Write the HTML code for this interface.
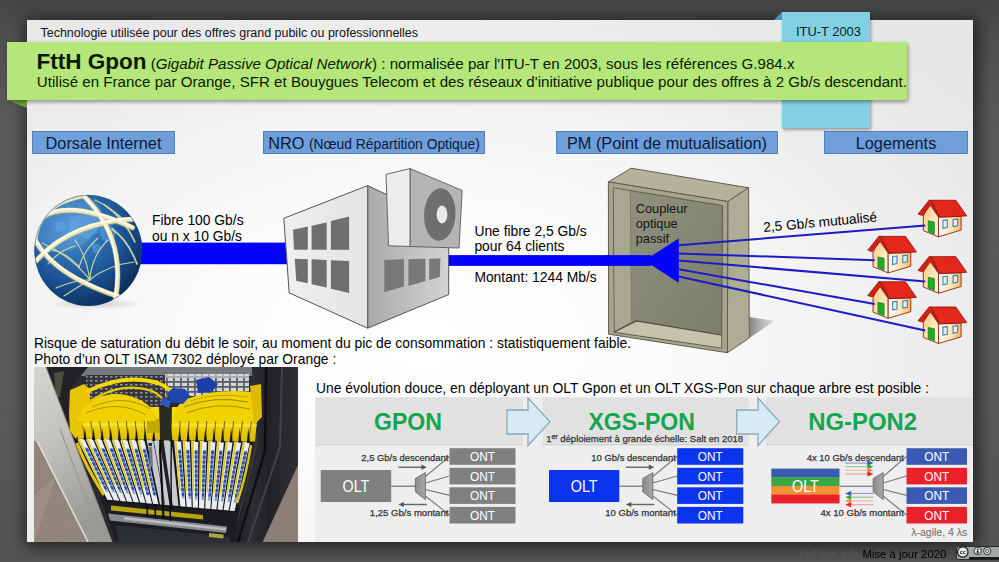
<!DOCTYPE html>
<html lang="fr">
<head>
<meta charset="utf-8">
<title>FttH Gpon</title>
<style>
*{margin:0;padding:0;box-sizing:border-box}
html,body{width:999px;height:562px;overflow:hidden}
body{font-family:"Liberation Sans",sans-serif;color:#000;position:relative;
 background:linear-gradient(to bottom,#454545 0px,#505050 36px,#5b5b5b 130px,#5a5a5a 400px,#545454 562px)}
.abs{position:absolute}
#slide{position:absolute;left:27px;top:20px;width:946px;height:522px;
 background:radial-gradient(ellipse 700px 420px at 42% 62%,#ffffff 0%,#fcfcfc 30%,#f2f2f2 60%,#eaeaea 82%,#e7e7e7 100%);
 box-shadow:2px 2px 16px 3px rgba(0,0,0,.62)}
.t{position:absolute;white-space:nowrap;line-height:1}
#tab{position:absolute;left:782px;top:12px;width:88px;height:116px;background:#82d1e3;box-shadow:1px 2px 3px rgba(0,0,0,.35)}
#tabfold{position:absolute;left:774px;top:12px;width:0;height:0;border-left:8px solid transparent;border-bottom:8px solid #3f9fc0}
#banner{position:absolute;left:7px;top:42px;width:900px;height:58px;background:#b4e67a;box-shadow:1px 2px 4px rgba(0,0,0,.4)}
#bfold{position:absolute;left:7px;top:100px;width:0;height:0;border-right:20px solid #6fa040;border-bottom:8px solid transparent}
.lbl{position:absolute;top:131px;height:23px;background:#6f9ed9;border:1px solid #4f7fc0;text-align:center;font-size:16.3px;line-height:22.3px;color:#0a1a3a;white-space:nowrap}
.lbl small{font-size:13.85px}
</style>
</head>
<body>
<div id="slide"></div>
<div id="tabfold"></div>
<div id="tab"></div>
<div class="t" style="left:796px;top:25.5px;font-size:12.9px;color:#0c1c30">ITU-T 2003</div>
<div id="bfold"></div>
<div id="banner"></div>
<div class="t" style="left:40.5px;top:26.5px;font-size:12.48px;color:#111">Technologie utilisée pour des offres grand pubilc ou professionnelles</div>
<div class="t" style="left:36.5px;top:50.6px;font-size:15.15px;color:#0a1a00"><b style="font-size:22.5px">FttH Gpon</b> (<i>Gigabit Passive Optical Network</i>) : normalisée par l'ITU-T en 2003, sous les références G.984.x</div>
<div class="t" style="left:36.8px;top:74px;font-size:15.1px;letter-spacing:.022px;color:#0a1a00">Utilisé en France par Orange, SFR et Bouygues Telecom et des réseaux d'initiative publique pour des offres à 2 Gb/s descendant.</div>

<div class="lbl" style="left:32px;width:143px">Dorsale Internet</div>
<div class="lbl" style="left:263px;width:222px">NRO <small>(Nœud Répartition Optique)</small></div>
<div class="lbl" style="left:556px;width:222px">PM (Point de mutualisation)</div>
<div class="lbl" style="left:824px;width:144px">Logements</div>

<!--MID-START-->
<svg class="abs" style="left:0;top:0" width="999" height="562" viewBox="0 0 999 562">
<defs>
 <radialGradient id="gGlobe" cx="0.36" cy="0.30" r="0.75">
  <stop offset="0" stop-color="#4f94d4"/><stop offset="0.35" stop-color="#2f72b6"/><stop offset="0.7" stop-color="#1a4f8e"/><stop offset="1" stop-color="#0d2d58"/>
 </radialGradient>
 <radialGradient id="gShadow" cx="0.5" cy="0.5" r="0.5"><stop offset="0" stop-color="#000" stop-opacity=".35"/><stop offset="1" stop-color="#000" stop-opacity="0"/></radialGradient>
 <clipPath id="cGlobe"><ellipse cx="88.3" cy="250.5" rx="54" ry="55.6"/></clipPath>
 <linearGradient id="gBldR" x1="0" y1="0" x2="1" y2="0"><stop offset="0" stop-color="#a9a9a9"/><stop offset="1" stop-color="#d4d4d4"/></linearGradient>
 <linearGradient id="gBldL" x1="0" y1="0" x2="1" y2="0"><stop offset="0" stop-color="#efefef"/><stop offset="1" stop-color="#e4e4e4"/></linearGradient>
 <linearGradient id="gBack" x1="0" y1="0" x2="1" y2="1"><stop offset="0" stop-color="#929280"/><stop offset="1" stop-color="#7c7c6a"/></linearGradient>
 <linearGradient id="gCabSh" x1="0" y1="0" x2="1" y2="0"><stop offset="0" stop-color="#777" stop-opacity=".9"/><stop offset="1" stop-color="#999" stop-opacity=".25"/></linearGradient>
 <linearGradient id="gWallL" x1="0" y1="0" x2="1" y2="1"><stop offset="0" stop-color="#ffc070"/><stop offset=".6" stop-color="#ffe9c4"/><stop offset="1" stop-color="#fff8ea"/></linearGradient>
 <linearGradient id="gWallR" x1="0" y1="0" x2="1" y2="0"><stop offset="0" stop-color="#fffdf5"/><stop offset=".6" stop-color="#ffe2b0"/><stop offset="1" stop-color="#ffb060"/></linearGradient>
 <pattern id="pRoof" width="2.2" height="2.2" patternUnits="userSpaceOnUse" patternTransform="rotate(30)"><rect width="2.2" height="2.2" fill="#ea2a1c"/><circle cx="1.1" cy="1.1" r=".55" fill="#c8190f"/></pattern>
 <g id="house">
  <polygon points="11.6,4 5.3,16 5.3,30.7 20.5,36.9 20.5,17.3" fill="url(#gWallL)" stroke="#8a2a10" stroke-width=".9" stroke-linejoin="round"/>
  <polygon points="20.5,17.3 43.1,16.5 43.1,30.2 20.5,36.9" fill="url(#gWallR)" stroke="#8a2a10" stroke-width=".9" stroke-linejoin="round"/>
  <polygon points="10.2,20.9 16.4,22.2 16.4,34.2 10.2,31.6" fill="#1fae1f" stroke="#0c6a0c" stroke-width=".6"/>
  <polygon points="24.9,20.5 29.3,20 29.3,27.6 24.9,28.5" fill="#dff0ff" stroke="#3f7fb5" stroke-width="1.1"/>
  <polygon points="35.1,19.6 39.6,19.1 39.6,25.8 35.1,26.7" fill="#dff0ff" stroke="#3f7fb5" stroke-width="1.1"/>
  <polygon points="11.1,0.4 37.8,0.4 48.7,16 21.5,17.2" fill="url(#pRoof)" stroke="#8a1810" stroke-width=".9" stroke-linejoin="round"/>
  <polygon points="11.1,0.4 0,14.2 4.6,15.6 12.6,5.2 21.5,17.2 13.5,1.2" fill="#d81f15" stroke="#8a1810" stroke-width=".8" stroke-linejoin="round"/>
 </g>
</defs>

<!-- blue fibre 1 -->
<rect x="138" y="242.6" width="150" height="21.6" fill="#0404fb"/>
<!-- globe -->
<ellipse cx="96" cy="304" rx="48" ry="6" fill="url(#gShadow)" opacity=".45"/>
<ellipse cx="88.3" cy="250.5" rx="54" ry="55.6" fill="url(#gGlobe)"/>
<g clip-path="url(#cGlobe)" fill="none">
 <path d="M70 220 q7 -7 16 -4 q9 -6 17 0 q4 7 -4 10 q2 8 -8 9 q-4 7 -11 1 q-11 -3 -10 -16z M101 226 q9 -3 14 3 q2 8 -3 12 q-8 3 -11 -4 q-3 -6 0 -11z M56 223 q7 -4 10 2 q-1 7 -8 7 q-4 -3 -2 -9z M92 244 q6 -2 9 3 q-1 6 -6 6 q-4 -3 -3 -9z" fill="#5a9fdc" opacity=".6"/>
 <ellipse cx="68" cy="224" rx="36" ry="25" fill="#86bdee" opacity=".25" transform="rotate(-30 68 224)"/>
 <g stroke="#dbe0a4" stroke-width="1.15" opacity=".92" stroke-linecap="round">
  <path d="M89.8 279.7 Q70 255 42 243"/><path d="M89.8 279.7 Q86 255 75 240"/><path d="M89.8 279.7 Q92 255 108 240"/><path d="M89.8 279.7 Q108 265 134 262"/><path d="M56 288 Q74 280 89.8 279.7"/><path d="M48 264 Q60 250 75 246"/>
  <path d="M79 267 Q66 252 52 250"/><path d="M79 267 Q84 250 98 238"/><path d="M64 296 Q76 288 89.8 279.7"/>
  <path d="M104.7 205 Q124 218 135 242" stroke-width="1.7"/><path d="M112 229 Q128 240 137 264" stroke-width="1.7"/><path d="M95 200 Q112 208 126 222"/>
 </g>
 <g stroke="#c9c28a" stroke-width="5.4" stroke-linecap="round" opacity=".55">
  <path d="M40.7 218.3 Q69.4 198.9 132.5 227.9"/>
  <path d="M36.4 261 Q70.5 222.8 134.6 219.3"/>
  <path d="M84.5 196.9 Q126.6 239.6 115.4 299.4"/>
  <path d="M35.3 240.7 Q54.5 276 119.7 297.3"/>
 </g>
 <g stroke="#efe8b6" stroke-width="4.4" stroke-linecap="round">
  <path d="M35.5 244 Q37 204 84.5 196.4" stroke-width="3.4"/>
  <path d="M40.7 217.8 Q69.4 198.4 132.5 227.4"/>
  <path d="M36.4 260.5 Q70.5 222.3 134.6 218.8"/>
  <path d="M84.5 196.4 Q126.6 239.1 115.4 298.9"/>
  <path d="M35.3 240.2 Q54.5 275.5 119.7 296.8"/>
 </g>
 <g stroke="#ffffff" stroke-width="1.7" stroke-linecap="round" opacity=".85">
  <path d="M41 217 Q69.4 197.4 132 226.4"/>
  <path d="M37 259.5 Q70.5 221.3 134 217.8"/>
  <path d="M84 196.4 Q125.6 239.1 114.4 298.5"/>
  <path d="M36 240 Q55 274.5 119 295.8"/>
 </g>
</g>
<ellipse cx="88.3" cy="250.5" rx="53.6" ry="55.2" fill="none" stroke="#1a4a80" stroke-width=".8" opacity=".6"/>

<!-- building -->
<g stroke="#555" stroke-width="1" stroke-linejoin="round">
 <polygon points="367.7,185.6 448.7,224 448.7,294.5 367.7,328.2" fill="url(#gBldR)"/>
 <polygon points="283.8,218.3 367.7,185.6 367.7,328.2 289.2,292.9" fill="url(#gBldL)"/>
</g>
<g fill="#6f6f6f">
 <polygon points="293,229.8 307.8,226.6 307.8,249.7 294,249.7"/>
 <polygon points="311.6,225.7 326.7,222.5 326.7,249.7 311.6,249.7"/>
 <polygon points="330.9,220.9 349.1,216.4 349.1,249.7 330.9,249.7"/>
 <polygon points="294.7,258.7 307.8,259.3 307.8,283.3 296.3,281.1"/>
 <polygon points="311.6,259.3 326.7,259.9 326.7,287.5 311.6,284.3"/>
 <polygon points="330.9,260.3 349.1,260.9 349.1,292.9 330.9,288.8"/>
 <polygon points="384.3,259.9 403.9,259.3 403.9,286.5 384.3,292.3" fill="#787878"/>
 <polygon points="408.4,259.3 425.4,258.7 425.4,281.1 408.4,285.9" fill="#787878"/>
 <polygon points="429.2,258.7 440.4,258.3 439.8,276.9 429.2,280.1" fill="#787878"/>
</g>
<!-- fibre 2 -->
<rect x="448.7" y="255.1" width="200" height="10.8" fill="#0404fb"/>
<!-- AC unit -->
<g stroke="#666" stroke-width="1" stroke-linejoin="round">
 <polygon points="410,168.6 462.2,190.4 459,248 410,246.5" fill="#b4b4b4"/>
 <polygon points="386,174.4 410,168.6 410,246.5 388.5,245.8" fill="#ececec"/>
</g>
<ellipse cx="439.8" cy="214.5" rx="15.7" ry="26.3" fill="#6e6e6e" transform="rotate(3 439.8 214.5)"/>
<ellipse cx="442" cy="214.5" rx="5.4" ry="9" fill="#e9e9e9"/>

<!-- cabinet -->
<polygon points="749.3,317 775,321 749.3,338" fill="url(#gCabSh)"/>
<g stroke="#5e5e50" stroke-width="1" stroke-linejoin="round">
 <polygon points="608.4,181.9 631.1,168.2 748.6,187.8 727.8,201.5" fill="#b3b39b"/>
 <polygon points="727.8,201.5 748.6,187.8 749.3,338 727.4,352.7" fill="#adad95"/>
 <polygon points="608.4,181.9 727.8,201.5 727.4,352.7 608.6,334.2" fill="#a5a58d"/>
 <polygon points="613.3,187.8 722.5,205.6 721.6,348.1 614.3,332.3" fill="url(#gBack)"/>
</g>
<polygon points="613.8,188.3 630.3,191.3 631.4,320.9 614.8,331.8" fill="#a8a890"/>
<polygon points="614.8,331.8 636.5,320.9 721.1,335 721.1,347.6" fill="#c4c4aa"/>
<path d="M614.8 331.8 L636.5 320.9 L721.1 335" fill="none" stroke="#4a4a40" stroke-width="1.2"/>
<path d="M630.3 191.3 L631.4 320.9" fill="none" stroke="#77776a" stroke-width=".8"/>

<!-- coupler -->
<rect x="606" y="255.1" width="45" height="10.8" fill="#0404fb"/>
<polygon points="644.3,260.4 678.8,238.5 678.8,282.8" fill="#0404fb"/>

<use href="#house" x="918" y="199.9"/>
<use href="#house" x="867.7" y="236"/>
<use href="#house" x="918" y="256.3"/>
<use href="#house" x="867.7" y="281.4"/>
<use href="#house" x="918" y="306.6"/>
<g stroke="#1c1cc4" stroke-width="2" fill="none">
 <path d="M678.8 245.3 L925.2 225.4"/>
 <path d="M678.8 253.5 L874.7 260.2"/>
 <path d="M678.8 260.6 L925.2 281.4"/>
 <path d="M678.8 269.3 L874.7 304.1"/>
 <path d="M678.8 276.5 L925.2 330.4"/>
</g>
</svg>
<div class="t" style="left:152px;top:213px;font-size:13.85px;line-height:15.7px">Fibre 100 Gb/s<br>ou n x 10 Gb/s</div>
<div class="t" style="left:474.4px;top:223.6px;font-size:13.85px;line-height:15.7px">Une fibre 2,5 Gb/s<br>pour 64 clients</div>
<div class="t" style="left:474.4px;top:270.6px;font-size:13.85px">Montant: 1244 Mb/s</div>
<div class="t" style="left:635.7px;top:201.8px;font-size:12.8px;line-height:14.95px;color:#151510">Coupleur<br>optique<br>passif</div>
<div class="t" style="left:764px;top:221px;font-size:13.7px;transform-origin:0 100%;transform:rotate(-5.3deg)">2,5 Gb/s mutualisé</div>
<div class="t" style="left:34px;top:336px;font-size:13.87px;line-height:15.5px">Risque de saturation du débit le soir, au moment du pic de consommation : statistiquement faible.<br>Photo d’un OLT ISAM 7302 déployé par Orange :</div>
<!--MID-END-->
<!--PHOTO-START-->
<svg class="abs" style="left:33.5px;top:367px" width="264" height="175" viewBox="0 0 264 175">
<defs>
<filter id="fb" x="-5%" y="-5%" width="110%" height="110%"><feGaussianBlur stdDeviation="0.55"/></filter>
<filter id="fb2" x="-5%" y="-5%" width="110%" height="110%"><feGaussianBlur stdDeviation="1.2"/></filter>
<pattern id="pMesh" width="5" height="4" patternUnits="userSpaceOnUse"><rect width="5" height="4" fill="#34353a"/><rect x="1" y="1" width="2.6" height="1.6" fill="#8d8f94"/></pattern>
<pattern id="pPerf" width="2.4" height="2.4" patternUnits="userSpaceOnUse" patternTransform="rotate(35)"><rect width="2.4" height="2.4" fill="#9a8a84"/><circle cx="1.2" cy="1.2" r=".6" fill="#7a6a66"/></pattern>
<pattern id="pGrid" width="7" height="5" patternUnits="userSpaceOnUse"><rect width="7" height="5" fill="#5a5f66"/><rect x=".8" y=".8" width="5.2" height="3.2" fill="#d2d6d9"/></pattern>
<linearGradient id="gDoor" x1="0" y1="0" x2="0.35" y2="1"><stop offset="0" stop-color="#d6d4ce"/><stop offset=".45" stop-color="#c4c2bc"/><stop offset="1" stop-color="#9b9995"/></linearGradient>
<linearGradient id="gRail" x1="0" y1="0" x2="1" y2="0"><stop offset="0" stop-color="#1c1c20"/><stop offset=".3" stop-color="#2e2e33"/><stop offset=".55" stop-color="#232327"/><stop offset="1" stop-color="#303035"/></linearGradient>
<linearGradient id="gBoot" x1="0" y1="0" x2="0" y2="1"><stop offset="0" stop-color="#f4dc18"/><stop offset=".55" stop-color="#f0d200"/><stop offset="1" stop-color="#dcbc00"/></linearGradient>
<clipPath id="cPh"><rect width="264" height="175"/></clipPath>
</defs>
<g clip-path="url(#cPh)">
<rect width="264" height="175" fill="#2a2a2f"/>
<g filter="url(#fb)">
<rect x="40" y="0" width="180" height="9" fill="#747a7d"/>
<rect x="52" y="8" width="82" height="36" fill="url(#pMesh)"/>
<rect x="131" y="7" width="84" height="22" fill="url(#pGrid)"/>
<rect x="131" y="7" width="84" height="4" fill="#d8dcde" opacity=".6"/>
<polygon points="264,90 264,175 222,175" fill="#8d7f77"/>
<polygon points="218,0 264,0 264,98 228.6,175 198,175 208,126 219,78" fill="url(#gRail)"/>
<path d="M248 0 L246 80 L214 175" stroke="#48484e" stroke-width="2" fill="none" opacity=".8"/>
<path d="M232 0 L231 84 L204 175" stroke="#101013" stroke-width="2.5" fill="none"/>
<path d="M222 30 L222 80 L202 160" stroke="#3d3d42" stroke-width="1.2" fill="none"/>
<polygon points="66,130 206,140 200,175 82,175" fill="#1d1d22"/>
<polygon points="74,146.5 193,159.5 192,166 76,153.5" fill="#888c92"/>
<polygon points="90,150 192,161.2 192,163.4 90,152.4" fill="#cfd0ca" opacity=".75"/>
<polygon points="77,138.5 169,148 169,152.5 77,143.5" fill="#b8a410"/>
<polygon points="82,158 196,170 196,175 84,175" fill="#2c2e36"/>
<polygon points="175,166 189.5,167.5 189.5,171.5 175,170" fill="#b5a33a"/>
<polygon points="40,71.5 219,75.0 202.3,146.3 71.9,134.5" fill="#17171a"/>
<polygon points="43.0,71.5 50.1,71.7 78.8,133.2 73.3,132.7" fill="#e9ecf0"/>
<polygon points="43.5,71.5 45.4,71.5 67.3,116.7 65.7,116.7" fill="#e4cb12"/>
<polygon points="50.7,80.5 53.5,80.5 74.2,124.7 71.9,124.7" fill="#7f9bd0"/>
<polygon points="51.2,81.5 54.0,81.5 55.5,84.6 52.7,84.6" fill="#2a4f9e"/>
<polygon points="53.4,86.2 56.2,86.2 57.7,89.3 54.9,89.3" fill="#2a4f9e"/>
<polygon points="55.7,90.9 58.4,90.9 59.9,94.0 57.2,94.0" fill="#2a4f9e"/>
<polygon points="58.0,95.6 60.6,95.6 62.1,98.7 59.5,98.7" fill="#2a4f9e"/>
<polygon points="60.2,100.3 62.8,100.3 64.3,103.4 61.7,103.4" fill="#2a4f9e"/>
<polygon points="62.5,105.0 65.0,105.0 66.5,108.1 64.0,108.1" fill="#2a4f9e"/>
<polygon points="64.7,109.7 67.2,109.7 68.7,112.8 66.2,112.8" fill="#2a4f9e"/>
<polygon points="67.0,114.4 69.4,114.4 70.9,117.5 68.5,117.5" fill="#2a4f9e"/>
<polygon points="69.3,119.1 71.6,119.1 73.1,122.2 70.8,122.2" fill="#2a4f9e"/>
<polygon points="51.6,71.7 58.7,71.8 85.4,133.8 79.9,133.3" fill="#e9ecf0"/>
<polygon points="52.1,71.7 54.0,71.7 74.5,117.3 73.0,117.3" fill="#e4cb12"/>
<polygon points="59.0,80.7 61.8,80.7 81.2,125.3 78.9,125.3" fill="#7f9bd0"/>
<polygon points="59.4,81.7 62.3,81.7 63.6,84.8 60.8,84.8" fill="#2a4f9e"/>
<polygon points="61.5,86.4 64.3,86.4 65.7,89.5 62.9,89.5" fill="#2a4f9e"/>
<polygon points="63.6,91.1 66.3,91.1 67.7,94.2 65.0,94.2" fill="#2a4f9e"/>
<polygon points="65.7,95.8 68.4,95.8 69.7,98.9 67.1,98.9" fill="#2a4f9e"/>
<polygon points="67.8,100.5 70.4,100.5 71.8,103.6 69.2,103.6" fill="#2a4f9e"/>
<polygon points="69.9,105.2 72.5,105.2 73.8,108.3 71.3,108.3" fill="#2a4f9e"/>
<polygon points="72.0,109.9 74.5,109.9 75.8,113.0 73.4,113.0" fill="#2a4f9e"/>
<polygon points="74.1,114.6 76.5,114.6 77.9,117.7 75.5,117.7" fill="#2a4f9e"/>
<polygon points="76.2,119.3 78.6,119.3 79.9,122.4 77.6,122.4" fill="#2a4f9e"/>
<polygon points="60.2,71.9 67.3,72.0 92.0,134.4 86.5,133.9" fill="#e9ecf0"/>
<polygon points="60.7,71.9 62.6,71.9 81.7,117.9 80.1,117.9" fill="#e4cb12"/>
<polygon points="67.3,80.9 70.1,80.9 88.1,125.9 85.8,125.9" fill="#7f9bd0"/>
<polygon points="67.7,81.9 70.5,81.9 71.8,85.0 69.0,85.0" fill="#2a4f9e"/>
<polygon points="69.6,86.6 72.4,86.6 73.6,89.7 70.9,89.7" fill="#2a4f9e"/>
<polygon points="71.5,91.3 74.3,91.3 75.5,94.4 72.8,94.4" fill="#2a4f9e"/>
<polygon points="73.5,96.0 76.1,96.0 77.4,99.1 74.7,99.1" fill="#2a4f9e"/>
<polygon points="75.4,100.7 78.0,100.7 79.2,103.8 76.7,103.8" fill="#2a4f9e"/>
<polygon points="77.3,105.4 79.9,105.4 81.1,108.5 78.6,108.5" fill="#2a4f9e"/>
<polygon points="79.3,110.1 81.8,110.1 83.0,113.2 80.5,113.2" fill="#2a4f9e"/>
<polygon points="81.2,114.8 83.6,114.8 84.9,117.9 82.5,117.9" fill="#2a4f9e"/>
<polygon points="83.1,119.5 85.5,119.5 86.7,122.6 84.4,122.6" fill="#2a4f9e"/>
<polygon points="68.8,72.0 75.9,72.2 98.5,134.9 93.1,134.5" fill="#e9ecf0"/>
<polygon points="69.3,72.0 71.2,72.0 88.8,118.5 87.3,118.5" fill="#e4cb12"/>
<polygon points="75.6,81.0 78.4,81.0 94.9,126.5 92.6,126.5" fill="#7f9bd0"/>
<polygon points="75.9,82.0 78.8,82.0 79.9,85.1 77.1,85.1" fill="#2a4f9e"/>
<polygon points="77.7,86.7 80.5,86.7 81.6,89.8 78.9,89.8" fill="#2a4f9e"/>
<polygon points="79.5,91.4 82.2,91.4 83.3,94.5 80.6,94.5" fill="#2a4f9e"/>
<polygon points="81.2,96.1 83.9,96.1 85.0,99.2 82.4,99.2" fill="#2a4f9e"/>
<polygon points="83.0,100.8 85.6,100.8 86.7,103.9 84.2,103.9" fill="#2a4f9e"/>
<polygon points="84.8,105.5 87.3,105.5 88.4,108.6 85.9,108.6" fill="#2a4f9e"/>
<polygon points="86.5,110.2 89.0,110.2 90.1,113.3 87.7,113.3" fill="#2a4f9e"/>
<polygon points="88.3,114.9 90.7,114.9 91.8,118.0 89.4,118.0" fill="#2a4f9e"/>
<polygon points="90.0,119.6 92.4,119.6 93.6,122.7 91.2,122.7" fill="#2a4f9e"/>
<polygon points="77.4,72.2 84.5,72.3 105.0,135.5 99.6,135.0" fill="#e9ecf0"/>
<polygon points="77.9,72.2 79.8,72.2 95.9,119.0 94.4,119.0" fill="#e4cb12"/>
<polygon points="83.8,81.2 86.7,81.2 101.7,127.0 99.4,127.0" fill="#7f9bd0"/>
<polygon points="84.2,82.2 87.0,82.2 88.0,85.3 85.2,85.3" fill="#2a4f9e"/>
<polygon points="85.8,86.9 88.6,86.9 89.6,90.0 86.8,90.0" fill="#2a4f9e"/>
<polygon points="87.4,91.6 90.1,91.6 91.1,94.7 88.4,94.7" fill="#2a4f9e"/>
<polygon points="89.0,96.3 91.6,96.3 92.7,99.4 90.0,99.4" fill="#2a4f9e"/>
<polygon points="90.6,101.0 93.2,101.0 94.2,104.1 91.6,104.1" fill="#2a4f9e"/>
<polygon points="92.2,105.7 94.7,105.7 95.7,108.8 93.2,108.8" fill="#2a4f9e"/>
<polygon points="93.8,110.4 96.3,110.4 97.3,113.5 94.8,113.5" fill="#2a4f9e"/>
<polygon points="95.4,115.1 97.8,115.1 98.8,118.2 96.4,118.2" fill="#2a4f9e"/>
<polygon points="97.0,119.8 99.3,119.8 100.4,122.9 98.0,122.9" fill="#2a4f9e"/>
<polygon points="86.0,72.4 93.1,72.5 111.5,136.1 106.2,135.6" fill="#e9ecf0"/>
<polygon points="86.5,72.4 88.4,72.4 103.0,119.6 101.5,119.6" fill="#e4cb12"/>
<polygon points="92.1,81.4 95.0,81.4 108.5,127.6 106.2,127.6" fill="#7f9bd0"/>
<polygon points="92.4,82.4 95.3,82.4 96.2,85.5 93.4,85.5" fill="#2a4f9e"/>
<polygon points="93.9,87.1 96.7,87.1 97.6,90.2 94.8,90.2" fill="#2a4f9e"/>
<polygon points="95.3,91.8 98.0,91.8 98.9,94.9 96.2,94.9" fill="#2a4f9e"/>
<polygon points="96.7,96.5 99.4,96.5 100.3,99.6 97.7,99.6" fill="#2a4f9e"/>
<polygon points="98.2,101.2 100.8,101.2 101.7,104.3 99.1,104.3" fill="#2a4f9e"/>
<polygon points="99.6,105.9 102.1,105.9 103.1,109.0 100.5,109.0" fill="#2a4f9e"/>
<polygon points="101.0,110.6 103.5,110.6 104.4,113.7 102.0,113.7" fill="#2a4f9e"/>
<polygon points="102.5,115.3 104.9,115.3 105.8,118.4 103.4,118.4" fill="#2a4f9e"/>
<polygon points="103.9,120.0 106.3,120.0 107.2,123.1 104.8,123.1" fill="#2a4f9e"/>
<polygon points="94.6,72.6 101.7,72.7 118.0,136.7 112.6,136.2" fill="#e9ecf0"/>
<polygon points="95.1,72.6 97.0,72.6 110.0,120.2 108.5,120.2" fill="#e4cb12"/>
<polygon points="100.4,81.6 103.3,81.6 115.3,128.2 113.0,128.2" fill="#7f9bd0"/>
<polygon points="100.7,82.6 103.5,82.6 104.3,85.7 101.5,85.7" fill="#2a4f9e"/>
<polygon points="101.9,87.3 104.7,87.3 105.5,90.4 102.8,90.4" fill="#2a4f9e"/>
<polygon points="103.2,92.0 105.9,92.0 106.7,95.1 104.0,95.1" fill="#2a4f9e"/>
<polygon points="104.5,96.7 107.1,96.7 107.9,99.8 105.3,99.8" fill="#2a4f9e"/>
<polygon points="105.7,101.4 108.4,101.4 109.2,104.5 106.6,104.5" fill="#2a4f9e"/>
<polygon points="107.0,106.1 109.6,106.1 110.4,109.2 107.8,109.2" fill="#2a4f9e"/>
<polygon points="108.3,110.8 110.8,110.8 111.6,113.9 109.1,113.9" fill="#2a4f9e"/>
<polygon points="109.5,115.5 112.0,115.5 112.8,118.6 110.4,118.6" fill="#2a4f9e"/>
<polygon points="110.8,120.2 113.2,120.2 114.0,123.3 111.6,123.3" fill="#2a4f9e"/>
<polygon points="112.1,124.9 114.4,124.9 115.2,128.0 112.9,128.0" fill="#2a4f9e"/>
<polygon points="103.2,72.7 110.3,72.9 124.4,137.3 119.1,136.8" fill="#e9ecf0"/>
<polygon points="103.7,72.7 105.6,72.7 117.0,120.8 115.5,120.8" fill="#e4cb12"/>
<polygon points="108.7,81.7 111.6,81.7 122.0,128.8 119.7,128.8" fill="#7f9bd0"/>
<polygon points="108.9,82.7 111.8,82.7 112.5,85.8 109.7,85.8" fill="#2a4f9e"/>
<polygon points="110.0,87.4 112.8,87.4 113.5,90.5 110.8,90.5" fill="#2a4f9e"/>
<polygon points="111.1,92.1 113.9,92.1 114.5,95.2 111.9,95.2" fill="#2a4f9e"/>
<polygon points="112.2,96.8 114.9,96.8 115.6,99.9 113.0,99.9" fill="#2a4f9e"/>
<polygon points="113.3,101.5 115.9,101.5 116.6,104.6 114.0,104.6" fill="#2a4f9e"/>
<polygon points="114.4,106.2 117.0,106.2 117.7,109.3 115.1,109.3" fill="#2a4f9e"/>
<polygon points="115.5,110.9 118.0,110.9 118.7,114.0 116.2,114.0" fill="#2a4f9e"/>
<polygon points="116.6,115.6 119.1,115.6 119.7,118.7 117.3,118.7" fill="#2a4f9e"/>
<polygon points="117.7,120.3 120.1,120.3 120.8,123.4 118.4,123.4" fill="#2a4f9e"/>
<polygon points="118.8,125.0 121.1,125.0 121.8,128.1 119.5,128.1" fill="#2a4f9e"/>
<polygon points="112.5,72.9 119.0,73.0 130.8,137.9 126.0,137.4" fill="#c6c9ce"/>
<polygon points="119.6,73.1 125.5,73.2 135.6,138.3 131.3,137.9" fill="#c6c9ce"/>
<polygon points="126.0,73.2 129.0,73.2 138.2,138.5 136.0,138.3" fill="#202024"/>
<polygon points="129.5,73.2 137.5,73.4 144.5,139.1 138.6,138.5" fill="#c6c9ce"/>
<polygon points="114.5,80 118,80 119,100 116,100" fill="#6d7a8c"/>
<polygon points="114.5,76 118,76 118,79 114.5,79" fill="#2a2a2e"/>
<polygon points="140.0,73.5 147.1,73.6 151.5,139.7 146.3,139.2" fill="#e9ecf0"/>
<polygon points="140.5,73.5 142.4,73.5 146.7,123.2 145.2,123.2" fill="#e4cb12"/>
<polygon points="144.1,82.5 147.0,82.5 150.4,131.2 148.1,131.2" fill="#7f9bd0"/>
<polygon points="144.2,83.5 147.1,83.5 147.3,86.6 144.5,86.6" fill="#2a4f9e"/>
<polygon points="144.6,88.2 147.4,88.2 147.6,91.3 144.9,91.3" fill="#2a4f9e"/>
<polygon points="145.0,92.9 147.7,92.9 147.9,96.0 145.2,96.0" fill="#2a4f9e"/>
<polygon points="145.4,97.6 148.0,97.6 148.3,100.7 145.6,100.7" fill="#2a4f9e"/>
<polygon points="145.7,102.3 148.4,102.3 148.6,105.4 146.0,105.4" fill="#2a4f9e"/>
<polygon points="146.1,107.0 148.7,107.0 148.9,110.1 146.4,110.1" fill="#2a4f9e"/>
<polygon points="146.5,111.7 149.0,111.7 149.2,114.8 146.8,114.8" fill="#2a4f9e"/>
<polygon points="146.9,116.4 149.3,116.4 149.6,119.5 147.2,119.5" fill="#2a4f9e"/>
<polygon points="147.3,121.1 149.7,121.1 149.9,124.2 147.5,124.2" fill="#2a4f9e"/>
<polygon points="147.7,125.8 150.0,125.8 150.2,128.9 147.9,128.9" fill="#2a4f9e"/>
<polygon points="148.6,73.6 155.7,73.8 157.7,140.3 152.6,139.8" fill="#e9ecf0"/>
<polygon points="149.1,73.6 151.0,73.6 153.5,123.8 152.0,123.8" fill="#e4cb12"/>
<polygon points="152.4,82.6 155.3,82.6 156.9,131.8 154.7,131.8" fill="#7f9bd0"/>
<polygon points="152.5,83.6 155.3,83.6 155.4,86.7 152.6,86.7" fill="#2a4f9e"/>
<polygon points="152.7,88.3 155.5,88.3 155.6,91.4 152.8,91.4" fill="#2a4f9e"/>
<polygon points="152.9,93.0 155.6,93.0 155.7,96.1 153.0,96.1" fill="#2a4f9e"/>
<polygon points="153.1,97.7 155.8,97.7 155.9,100.8 153.2,100.8" fill="#2a4f9e"/>
<polygon points="153.3,102.4 155.9,102.4 156.0,105.5 153.5,105.5" fill="#2a4f9e"/>
<polygon points="153.5,107.1 156.1,107.1 156.2,110.2 153.7,110.2" fill="#2a4f9e"/>
<polygon points="153.8,111.8 156.3,111.8 156.4,114.9 153.9,114.9" fill="#2a4f9e"/>
<polygon points="154.0,116.5 156.4,116.5 156.5,119.6 154.1,119.6" fill="#2a4f9e"/>
<polygon points="154.2,121.2 156.6,121.2 156.7,124.3 154.3,124.3" fill="#2a4f9e"/>
<polygon points="154.4,125.9 156.7,125.9 156.8,129.0 154.5,129.0" fill="#2a4f9e"/>
<polygon points="157.2,73.8 164.3,73.9 163.9,140.8 158.8,140.4" fill="#e9ecf0"/>
<polygon points="157.7,73.8 159.6,73.8 160.3,124.4 158.8,124.4" fill="#e4cb12"/>
<polygon points="160.7,82.8 163.6,82.8 163.4,132.4 161.2,132.4" fill="#7f9bd0"/>
<polygon points="160.7,83.8 163.6,83.8 163.6,86.9 160.7,86.9" fill="#2a4f9e"/>
<polygon points="160.8,88.5 163.6,88.5 163.5,91.6 160.8,91.6" fill="#2a4f9e"/>
<polygon points="160.8,93.2 163.5,93.2 163.5,96.3 160.8,96.3" fill="#2a4f9e"/>
<polygon points="160.8,97.9 163.5,97.9 163.5,101.0 160.9,101.0" fill="#2a4f9e"/>
<polygon points="160.9,102.6 163.5,102.6 163.5,105.7 160.9,105.7" fill="#2a4f9e"/>
<polygon points="160.9,107.3 163.5,107.3 163.5,110.4 161.0,110.4" fill="#2a4f9e"/>
<polygon points="161.0,112.0 163.5,112.0 163.5,115.1 161.0,115.1" fill="#2a4f9e"/>
<polygon points="161.0,116.7 163.5,116.7 163.5,119.8 161.1,119.8" fill="#2a4f9e"/>
<polygon points="161.1,121.4 163.5,121.4 163.5,124.5 161.1,124.5" fill="#2a4f9e"/>
<polygon points="161.1,126.1 163.5,126.1 163.5,129.2 161.2,129.2" fill="#2a4f9e"/>
<polygon points="165.8,74.0 172.9,74.1 170.1,141.4 165.0,140.9" fill="#e9ecf0"/>
<polygon points="166.3,74.0 168.2,74.0 167.1,124.9 165.6,124.9" fill="#e4cb12"/>
<polygon points="169.0,83.0 171.9,83.0 169.9,132.9 167.7,132.9" fill="#7f9bd0"/>
<polygon points="169.0,84.0 171.8,84.0 171.7,87.1 168.9,87.1" fill="#2a4f9e"/>
<polygon points="168.8,88.7 171.6,88.7 171.5,91.8 168.7,91.8" fill="#2a4f9e"/>
<polygon points="168.7,93.4 171.5,93.4 171.3,96.5 168.6,96.5" fill="#2a4f9e"/>
<polygon points="168.6,98.1 171.3,98.1 171.2,101.2 168.5,101.2" fill="#2a4f9e"/>
<polygon points="168.5,102.8 171.1,102.8 171.0,105.9 168.4,105.9" fill="#2a4f9e"/>
<polygon points="168.3,107.5 170.9,107.5 170.8,110.6 168.3,110.6" fill="#2a4f9e"/>
<polygon points="168.2,112.2 170.7,112.2 170.6,115.3 168.1,115.3" fill="#2a4f9e"/>
<polygon points="168.1,116.9 170.6,116.9 170.4,120.0 168.0,120.0" fill="#2a4f9e"/>
<polygon points="168.0,121.6 170.4,121.6 170.3,124.7 167.9,124.7" fill="#2a4f9e"/>
<polygon points="167.9,126.3 170.2,126.3 170.1,129.4 167.8,129.4" fill="#2a4f9e"/>
<polygon points="174.4,74.1 181.5,74.3 176.3,141.9 171.2,141.5" fill="#e9ecf0"/>
<polygon points="174.9,74.1 176.8,74.1 173.9,125.5 172.4,125.5" fill="#e4cb12"/>
<polygon points="177.3,83.1 180.1,83.1 176.4,133.5 174.1,133.5" fill="#7f9bd0"/>
<polygon points="177.2,84.1 180.1,84.1 179.8,87.2 177.0,87.2" fill="#2a4f9e"/>
<polygon points="176.9,88.8 179.7,88.8 179.5,91.9 176.7,91.9" fill="#2a4f9e"/>
<polygon points="176.6,93.5 179.4,93.5 179.1,96.6 176.4,96.6" fill="#2a4f9e"/>
<polygon points="176.3,98.2 179.0,98.2 178.8,101.3 176.1,101.3" fill="#2a4f9e"/>
<polygon points="176.0,102.9 178.7,102.9 178.4,106.0 175.8,106.0" fill="#2a4f9e"/>
<polygon points="175.7,107.6 178.3,107.6 178.1,110.7 175.6,110.7" fill="#2a4f9e"/>
<polygon points="175.5,112.3 178.0,112.3 177.7,115.4 175.3,115.4" fill="#2a4f9e"/>
<polygon points="175.2,117.0 177.6,117.0 177.4,120.1 175.0,120.1" fill="#2a4f9e"/>
<polygon points="174.9,121.7 177.3,121.7 177.0,124.8 174.7,124.8" fill="#2a4f9e"/>
<polygon points="174.6,126.4 176.9,126.4 176.7,129.5 174.4,129.5" fill="#2a4f9e"/>
<polygon points="183.0,74.3 190.1,74.5 182.4,142.5 177.3,142.0" fill="#e9ecf0"/>
<polygon points="183.5,74.3 185.4,74.3 180.6,126.0 179.1,126.0" fill="#e4cb12"/>
<polygon points="185.5,83.3 188.4,83.3 182.8,134.0 180.6,134.0" fill="#7f9bd0"/>
<polygon points="185.4,84.3 188.3,84.3 188.0,87.4 185.1,87.4" fill="#2a4f9e"/>
<polygon points="185.0,89.0 187.8,89.0 187.4,92.1 184.7,92.1" fill="#2a4f9e"/>
<polygon points="184.5,93.7 187.3,93.7 186.9,96.8 184.2,96.8" fill="#2a4f9e"/>
<polygon points="184.1,98.4 186.7,98.4 186.4,101.5 183.8,101.5" fill="#2a4f9e"/>
<polygon points="183.6,103.1 186.2,103.1 185.9,106.2 183.3,106.2" fill="#2a4f9e"/>
<polygon points="183.1,107.8 185.7,107.8 185.4,110.9 182.8,110.9" fill="#2a4f9e"/>
<polygon points="182.7,112.5 185.2,112.5 184.9,115.6 182.4,115.6" fill="#2a4f9e"/>
<polygon points="182.2,117.2 184.7,117.2 184.3,120.3 181.9,120.3" fill="#2a4f9e"/>
<polygon points="181.8,121.9 184.2,121.9 183.8,125.0 181.5,125.0" fill="#2a4f9e"/>
<polygon points="181.3,126.6 183.6,126.6 183.3,129.7 181.0,129.7" fill="#2a4f9e"/>
<polygon points="191.6,74.5 198.7,74.6 188.5,143.0 183.5,142.6" fill="#e9ecf0"/>
<polygon points="192.1,74.5 194.0,74.5 187.3,126.6 185.8,126.6" fill="#e4cb12"/>
<polygon points="193.8,83.5 196.7,83.5 189.2,134.6 187.0,134.6" fill="#7f9bd0"/>
<polygon points="193.7,84.5 196.5,84.5 196.1,87.6 193.3,87.6" fill="#2a4f9e"/>
<polygon points="193.1,89.2 195.9,89.2 195.4,92.3 192.6,92.3" fill="#2a4f9e"/>
<polygon points="192.4,93.9 195.2,93.9 194.7,97.0 192.0,97.0" fill="#2a4f9e"/>
<polygon points="191.8,98.6 194.5,98.6 194.0,101.7 191.4,101.7" fill="#2a4f9e"/>
<polygon points="191.2,103.3 193.8,103.3 193.3,106.4 190.8,106.4" fill="#2a4f9e"/>
<polygon points="190.5,108.0 193.1,108.0 192.7,111.1 190.1,111.1" fill="#2a4f9e"/>
<polygon points="189.9,112.7 192.4,112.7 192.0,115.8 189.5,115.8" fill="#2a4f9e"/>
<polygon points="189.3,117.4 191.7,117.4 191.3,120.5 188.9,120.5" fill="#2a4f9e"/>
<polygon points="188.7,122.1 191.1,122.1 190.6,125.2 188.2,125.2" fill="#2a4f9e"/>
<polygon points="188.0,126.8 190.4,126.8 189.9,129.9 187.6,129.9" fill="#2a4f9e"/>
<polygon points="200.2,74.7 207.3,74.8 194.6,143.6 189.6,143.1" fill="#e9ecf0"/>
<polygon points="200.7,74.7 202.6,74.7 193.9,127.1 192.4,127.1" fill="#e4cb12"/>
<polygon points="202.1,83.7 205.0,83.7 195.6,135.1 193.4,135.1" fill="#7f9bd0"/>
<polygon points="201.9,84.7 204.8,84.7 204.2,87.8 201.4,87.8" fill="#2a4f9e"/>
<polygon points="201.1,89.4 203.9,89.4 203.4,92.5 200.6,92.5" fill="#2a4f9e"/>
<polygon points="200.3,94.1 203.1,94.1 202.5,97.2 199.8,97.2" fill="#2a4f9e"/>
<polygon points="199.5,98.8 202.2,98.8 201.7,101.9 199.0,101.9" fill="#2a4f9e"/>
<polygon points="198.7,103.5 201.4,103.5 200.8,106.6 198.2,106.6" fill="#2a4f9e"/>
<polygon points="197.9,108.2 200.5,108.2 199.9,111.3 197.4,111.3" fill="#2a4f9e"/>
<polygon points="197.1,112.9 199.7,112.9 199.1,116.0 196.6,116.0" fill="#2a4f9e"/>
<polygon points="196.3,117.6 198.8,117.6 198.2,120.7 195.8,120.7" fill="#2a4f9e"/>
<polygon points="195.5,122.3 197.9,122.3 197.4,125.4 195.0,125.4" fill="#2a4f9e"/>
<polygon points="194.7,127.0 197.1,127.0 196.5,130.1 194.2,130.1" fill="#2a4f9e"/>
<polygon points="208.8,74.8 215.9,75.0 200.6,144.1 195.6,143.7" fill="#e9ecf0"/>
<polygon points="209.3,74.8 211.2,74.8 200.6,127.7 199.1,127.7" fill="#e4cb12"/>
<polygon points="210.4,83.8 213.3,83.8 201.9,135.7 199.7,135.7" fill="#7f9bd0"/>
<polygon points="210.2,84.8 213.0,84.8 212.4,87.9 209.5,87.9" fill="#2a4f9e"/>
<polygon points="209.2,89.5 212.0,89.5 211.3,92.6 208.6,92.6" fill="#2a4f9e"/>
<polygon points="208.2,94.2 211.0,94.2 210.3,97.3 207.6,97.3" fill="#2a4f9e"/>
<polygon points="207.3,98.9 210.0,98.9 209.3,102.0 206.6,102.0" fill="#2a4f9e"/>
<polygon points="206.3,103.6 208.9,103.6 208.3,106.7 205.7,106.7" fill="#2a4f9e"/>
<polygon points="205.3,108.3 207.9,108.3 207.2,111.4 204.7,111.4" fill="#2a4f9e"/>
<polygon points="204.4,113.0 206.9,113.0 206.2,116.1 203.7,116.1" fill="#2a4f9e"/>
<polygon points="203.4,117.7 205.9,117.7 205.2,120.8 202.8,120.8" fill="#2a4f9e"/>
<polygon points="202.4,122.4 204.8,122.4 204.1,125.5 201.8,125.5" fill="#2a4f9e"/>
<polygon points="201.5,127.1 203.8,127.1 203.1,130.2 200.8,130.2" fill="#2a4f9e"/>
<path d="M43 76 Q52 100 70 128" stroke="#e0c60c" stroke-width="3.2" fill="none"/>
<path d="M217 78 Q212 110 203 136" stroke="#e0c60c" stroke-width="2.4" fill="none"/>
<path d="M131 40 Q124 70 127 100 L129.5 152" stroke="#0d0d10" stroke-width="2.2" fill="none"/>
<path d="M140 40 Q136 60 137.5 142" stroke="#0d0d10" stroke-width="1.4" fill="none"/>
<path d="M121 138 L121.5 152 M113 137 L113.5 150 M136 139.5 L136.5 154" stroke="#0d0d10" stroke-width="1.6" fill="none"/>
<polygon points="38,40 224,40 221,74.5 41,71.5" fill="url(#gBoot)"/>
<polygon points="40,56 223,57 223,60 40,59" fill="#fff27a" opacity=".45"/>
<path d="M37.8 49 L42.4 71.5" stroke="#5e5000" stroke-width="1.1" opacity=".75"/>
<polygon points="42.3,61 40.8,72.5 44.0,72.5" fill="#17170f"/>
<path d="M46.8 49 L51.0 71.7" stroke="#5e5000" stroke-width="1.1" opacity=".75"/>
<polygon points="50.9,61 49.4,72.7 52.6,72.7" fill="#17170f"/>
<path d="M55.8 49 L59.6 71.9" stroke="#5e5000" stroke-width="1.1" opacity=".75"/>
<polygon points="59.5,61 58.0,72.9 61.2,72.9" fill="#17170f"/>
<path d="M64.8 49 L68.2 72.0" stroke="#5e5000" stroke-width="1.1" opacity=".75"/>
<polygon points="68.1,61 66.6,73.0 69.8,73.0" fill="#17170f"/>
<path d="M73.9 49 L76.8 72.2" stroke="#5e5000" stroke-width="1.1" opacity=".75"/>
<polygon points="76.7,61 75.2,73.2 78.4,73.2" fill="#17170f"/>
<path d="M82.9 49 L85.4 72.4" stroke="#5e5000" stroke-width="1.1" opacity=".75"/>
<polygon points="85.3,61 83.8,73.4 87.0,73.4" fill="#17170f"/>
<path d="M91.9 49 L94.0 72.6" stroke="#5e5000" stroke-width="1.1" opacity=".75"/>
<polygon points="93.9,61 92.4,73.6 95.6,73.6" fill="#17170f"/>
<path d="M101.0 49 L102.6 72.7" stroke="#5e5000" stroke-width="1.1" opacity=".75"/>
<polygon points="102.5,61 101.0,73.7 104.2,73.7" fill="#17170f"/>
<path d="M110.0 49 L111.2 72.9" stroke="#5e5000" stroke-width="1.1" opacity=".75"/>
<polygon points="111.1,61 109.6,73.9 112.8,73.9" fill="#17170f"/>
<path d="M119.0 49 L119.8 73.1" stroke="#5e5000" stroke-width="1.1" opacity=".75"/>
<polygon points="119.7,61 118.2,74.1 121.4,74.1" fill="#17170f"/>
<path d="M128.1 49 L128.4 73.2" stroke="#5e5000" stroke-width="1.1" opacity=".75"/>
<polygon points="128.3,61 126.8,74.2 130.0,74.2" fill="#17170f"/>
<path d="M137.1 49 L137.0 73.4" stroke="#5e5000" stroke-width="1.1" opacity=".75"/>
<polygon points="136.9,61 135.4,74.4 138.6,74.4" fill="#17170f"/>
<path d="M146.1 49 L145.6 73.6" stroke="#5e5000" stroke-width="1.1" opacity=".75"/>
<polygon points="145.5,61 144.0,74.6 147.2,74.6" fill="#17170f"/>
<path d="M155.1 49 L154.2 73.8" stroke="#5e5000" stroke-width="1.1" opacity=".75"/>
<polygon points="154.1,61 152.6,74.8 155.8,74.8" fill="#17170f"/>
<path d="M164.2 49 L162.8 73.9" stroke="#5e5000" stroke-width="1.1" opacity=".75"/>
<polygon points="162.7,61 161.2,74.9 164.4,74.9" fill="#17170f"/>
<path d="M173.2 49 L171.4 74.1" stroke="#5e5000" stroke-width="1.1" opacity=".75"/>
<polygon points="171.3,61 169.8,75.1 173.0,75.1" fill="#17170f"/>
<path d="M182.2 49 L180.0 74.3" stroke="#5e5000" stroke-width="1.1" opacity=".75"/>
<polygon points="179.9,61 178.4,75.3 181.6,75.3" fill="#17170f"/>
<path d="M191.3 49 L188.6 74.4" stroke="#5e5000" stroke-width="1.1" opacity=".75"/>
<polygon points="188.5,61 187.0,75.4 190.2,75.4" fill="#17170f"/>
<path d="M200.3 49 L197.2 74.6" stroke="#5e5000" stroke-width="1.1" opacity=".75"/>
<polygon points="197.1,61 195.6,75.6 198.8,75.6" fill="#17170f"/>
<path d="M209.3 49 L205.8 74.8" stroke="#5e5000" stroke-width="1.1" opacity=".75"/>
<polygon points="205.7,61 204.2,75.8 207.4,75.8" fill="#17170f"/>
<path d="M218.3 49 L214.4 75.0" stroke="#5e5000" stroke-width="1.1" opacity=".75"/>
<polygon points="214.3,61 212.8,76.0 216.0,76.0" fill="#17170f"/>
<polygon points="125,38 138,38 137,73 126,73" fill="#2a2a22"/>
<polygon points="113,52 125,52 125,66 113,66" fill="#c4a800"/>
<polygon points="34,24 50,17 56,22 56,44 42,72 36,64" fill="#e9c400"/>
<path d="M46,46 Q56,30 78,27 Q104,26 120,44 L122,54 L42,54Z" fill="#efd200"/>
<path d="M54 24 Q90 6 124 16 Q134 20 139 27" stroke="#f2d80c" stroke-width="4" fill="none" stroke-linecap="round"/>
<path d="M56 34 Q88 14 118 24 Q126 28 130 34" stroke="#e6cb00" stroke-width="2.2" fill="none"/>
<path d="M58 40 Q90 26 116 42" stroke="#a88f00" stroke-width=".9" fill="none"/>
<path d="M52 46 Q84 32 112 48" stroke="#a88f00" stroke-width=".9" fill="none"/>
<path d="M140,46 Q146,34 152,32 Q184,21 217,25 L226,44 L224,54 L140,54Z" fill="#efd200"/>
<path d="M150 40 Q180 28 214 35" stroke="#7a6600" stroke-width=".9" fill="none" opacity=".8"/>
<path d="M152 46 Q182 34 216 42" stroke="#7a6600" stroke-width=".9" fill="none" opacity=".7"/>
<path d="M156 34 Q182 25 214 30" stroke="#a88f00" stroke-width=".9" fill="none" opacity=".7"/>
<polygon points="216,19 227,17 228,50 220,58" fill="#e0ba00"/>
<path d="M133 26 l6 -5 l12 1 l5 7 l-7 8 l-13 -2z" fill="#2144b0"/>
<path d="M162 13 l13 -3 l9 7 l-6 8 l-14 1z" fill="#1f3fa8"/>
<path d="M128 30 l9 4 l-2 7 l-9 -4z" fill="#3257c0"/>
<polygon points="10,0 54,0 36,22 34,70 80,175 66,175" fill="#222226"/>
<polygon points="20,6 30,4 26,30 22,30" fill="#6b6a52" opacity=".6"/>
<polygon points="0,0 12,0 78,175 0,175" fill="url(#gDoor)"/>
<polygon points="0,74 3,74 54,175 0,175" fill="url(#pPerf)"/>
<path d="M3 74 L54 175" stroke="#e4e2dc" stroke-width="1.5"/>
<path d="M0 128 L22 110 L0 175Z" fill="#b49f97" opacity=".35"/>
<path d="M12 0 L78 175" stroke="#8d8a84" stroke-width="1"/>
<path d="M26 62 L68 175" stroke="#9c9992" stroke-width="1.2"/>
</g>
</g>
</svg>
<!--PHOTO-END-->
<!--BOTTOM-START-->
<div class="t" style="left:316px;top:381.8px;font-size:13.87px">Une évolution douce, en déployant un OLT Gpon et un OLT XGS-Pon sur chaque arbre est posible :</div>
<svg class="abs" style="left:0;top:0" width="999" height="562" viewBox="0 0 999 562" font-family="Liberation Sans, sans-serif">
<defs><linearGradient id="gSpl" x1="0" y1="0" x2="1" y2="0"><stop offset="0" stop-color="#8c8c8c"/><stop offset="1" stop-color="#a8a8a8"/></linearGradient></defs>
<rect x="315" y="397" width="658" height="145" fill="#eeeeee"/>
<rect x="315.5" y="397.3" width="207.7" height="47" fill="#e1e1e1"/>
<rect x="542.6" y="397.3" width="206.2" height="47" fill="#e1e1e1"/>
<rect x="766" y="397.3" width="207" height="47" fill="#e1e1e1"/>
<path d="M315.5 444.8 H523.2 M542.6 444.8 H748.8 M766 444.8 H973" stroke="#c9c9c9" stroke-width="1"/>
<polygon points="507,410 528,410 528,398 550,421.7 528,445.5 528,434 507,434" fill="#d6ebf6" stroke="#8fa9b8" stroke-width="1.3" stroke-linejoin="miter"/>
<polygon points="736.7,410 758,410 758,398 779.5,421.7 758,445.5 758,434 736.7,434" fill="#d6ebf6" stroke="#8fa9b8" stroke-width="1.3" stroke-linejoin="miter"/>
<g font-weight="bold" fill="#14a550" text-anchor="middle">
<text x="408" y="429.9" font-size="23.1">GPON</text>
<text x="641.7" y="429.7" font-size="23.1">XGS-PON</text>
<text x="862.6" y="429.8" font-size="23.9">NG-PON2</text>
</g>
<rect x="544" y="434" width="204" height="10.5" fill="#e1e1e1" opacity=".0"/>
<text x="546.2" y="442.4" font-size="9.47" fill="#333" stroke="#333" stroke-width=".25">1<tspan dy="-3" font-size="7">er</tspan><tspan dy="3"> déploiement à grande échelle: Salt en 2018</tspan></text>
<rect x="320.7" y="470" width="70.5" height="32" fill="#808080"/>
<text x="355.95" y="491.7" font-size="15.6" fill="#fff" text-anchor="middle" textLength="26.8" lengthAdjust="spacingAndGlyphs">OLT</text>
<path d="M391.2 486.2 H415.4" stroke="#666" stroke-width="1.1"/>
<path d="M425.4 476.5 L449.5 456.5" stroke="#7a7a7a" stroke-width="1.1"/>
<path d="M425.4 483 L449.5 476" stroke="#7a7a7a" stroke-width="1.1"/>
<path d="M425.4 489.5 L449.5 495.4" stroke="#7a7a7a" stroke-width="1.1"/>
<path d="M425.4 496 L449.5 515" stroke="#7a7a7a" stroke-width="1.1"/>
<polygon points="415.4,478.6 425.4,472.6 425.4,499.6 415.4,491.8" fill="url(#gSpl)" stroke="#6a6a6a" stroke-width=".9"/>
<rect x="449.5" y="448.2" width="66" height="16.6" fill="#808080"/>
<text x="482.5" y="461.0" font-size="12.7" fill="#fff" text-anchor="middle" textLength="25" lengthAdjust="spacingAndGlyphs">ONT</text>
<rect x="449.5" y="467.8" width="66" height="16.6" fill="#808080"/>
<text x="482.5" y="480.6" font-size="12.7" fill="#fff" text-anchor="middle" textLength="25" lengthAdjust="spacingAndGlyphs">ONT</text>
<rect x="449.5" y="487.3" width="66" height="16.6" fill="#808080"/>
<text x="482.5" y="500.1" font-size="12.7" fill="#fff" text-anchor="middle" textLength="25" lengthAdjust="spacingAndGlyphs">ONT</text>
<rect x="449.5" y="506.9" width="66" height="16.6" fill="#808080"/>
<text x="482.5" y="519.7" font-size="12.7" fill="#fff" text-anchor="middle" textLength="25" lengthAdjust="spacingAndGlyphs">ONT</text>
<path d="M398.4 467.2 H422.9" stroke="#666" stroke-width="1.4"/><polygon points="426.9,467.2 421.4,464.6 421.4,469.8" fill="#555"/>
<path d="M402.4 504.5 H426.9" stroke="#666" stroke-width="1.4"/><polygon points="398.4,504.5 403.9,501.9 403.9,507.1" fill="#555"/>
<text x="448.4" y="460.6" font-size="9.45" fill="#333" stroke="#333" stroke-width=".25" text-anchor="end">2,5 Gb/s descendant</text>
<text x="448.4" y="515.6" font-size="9.55" fill="#333" stroke="#333" stroke-width=".25" text-anchor="end">1,25 Gb/s montant</text>
<rect x="549" y="470" width="70.3" height="32" fill="#0b34ee"/>
<text x="584.15" y="491.7" font-size="15.6" fill="#fff" text-anchor="middle" textLength="26.8" lengthAdjust="spacingAndGlyphs">OLT</text>
<path d="M619.3 486.2 H642.8" stroke="#666" stroke-width="1.1"/>
<path d="M652.8 476.5 L677.2 456.5" stroke="#7a7a7a" stroke-width="1.1"/>
<path d="M652.8 483 L677.2 476" stroke="#7a7a7a" stroke-width="1.1"/>
<path d="M652.8 489.5 L677.2 495.4" stroke="#7a7a7a" stroke-width="1.1"/>
<path d="M652.8 496 L677.2 515" stroke="#7a7a7a" stroke-width="1.1"/>
<polygon points="642.8,478.6 652.8,472.6 652.8,499.6 642.8,491.8" fill="url(#gSpl)" stroke="#6a6a6a" stroke-width=".9"/>
<rect x="677.2" y="448.2" width="66.1" height="16.6" fill="#0b34ee"/>
<text x="710.25" y="461.0" font-size="12.7" fill="#fff" text-anchor="middle" textLength="25" lengthAdjust="spacingAndGlyphs">ONT</text>
<rect x="677.2" y="467.8" width="66.1" height="16.6" fill="#0b34ee"/>
<text x="710.25" y="480.6" font-size="12.7" fill="#fff" text-anchor="middle" textLength="25" lengthAdjust="spacingAndGlyphs">ONT</text>
<rect x="677.2" y="487.3" width="66.1" height="16.6" fill="#0b34ee"/>
<text x="710.25" y="500.1" font-size="12.7" fill="#fff" text-anchor="middle" textLength="25" lengthAdjust="spacingAndGlyphs">ONT</text>
<rect x="677.2" y="506.9" width="66.1" height="16.6" fill="#0b34ee"/>
<text x="710.25" y="519.7" font-size="12.7" fill="#fff" text-anchor="middle" textLength="25" lengthAdjust="spacingAndGlyphs">ONT</text>
<path d="M625.8 467.2 H650.3" stroke="#666" stroke-width="1.4"/><polygon points="654.3,467.2 648.8,464.6 648.8,469.8" fill="#555"/>
<path d="M629.8 504.5 H654.3" stroke="#666" stroke-width="1.4"/><polygon points="625.8,504.5 631.3,501.9 631.3,507.1" fill="#555"/>
<text x="675.8" y="460.6" font-size="9.45" fill="#333" stroke="#333" stroke-width=".25" text-anchor="end">10 Gb/s descendant</text>
<text x="675.8" y="515.6" font-size="9.55" fill="#333" stroke="#333" stroke-width=".25" text-anchor="end">10 Gb/s montant</text>
<rect x="771.3" y="468.60" width="68.2" height="8.9" fill="#3b5bb2"/>
<rect x="771.3" y="477.25" width="68.2" height="8.9" fill="#36a846"/>
<rect x="771.3" y="485.90" width="68.2" height="8.9" fill="#f29131"/>
<rect x="771.3" y="494.55" width="68.2" height="8.9" fill="#e8212a"/>
<text x="805.4" y="491.7" font-size="15.6" fill="#fff" text-anchor="middle" textLength="26.8" lengthAdjust="spacingAndGlyphs">OLT</text>
<path d="M839.5 486.2 H873.2" stroke="#666" stroke-width="1.1"/>
<path d="M883.2 476.5 L906.5 456.5" stroke="#7a7a7a" stroke-width="1.1"/>
<path d="M883.2 483 L906.5 476" stroke="#7a7a7a" stroke-width="1.1"/>
<path d="M883.2 489.5 L906.5 495.4" stroke="#7a7a7a" stroke-width="1.1"/>
<path d="M883.2 496 L906.5 515" stroke="#7a7a7a" stroke-width="1.1"/>
<polygon points="873.2,478.6 883.2,472.6 883.2,499.6 873.2,491.8" fill="url(#gSpl)" stroke="#6a6a6a" stroke-width=".9"/>
<rect x="906.5" y="448.2" width="60.5" height="16.6" fill="#3b5bb2"/>
<text x="936.75" y="461.0" font-size="12.7" fill="#fff" text-anchor="middle" textLength="25" lengthAdjust="spacingAndGlyphs">ONT</text>
<rect x="906.5" y="467.8" width="60.5" height="16.6" fill="#e8212a"/>
<text x="936.75" y="480.6" font-size="12.7" fill="#fff" text-anchor="middle" textLength="25" lengthAdjust="spacingAndGlyphs">ONT</text>
<rect x="906.5" y="487.3" width="60.5" height="16.6" fill="#3b5bb2"/>
<text x="936.75" y="500.1" font-size="12.7" fill="#fff" text-anchor="middle" textLength="25" lengthAdjust="spacingAndGlyphs">ONT</text>
<rect x="906.5" y="506.9" width="60.5" height="16.6" fill="#e8212a"/>
<text x="936.75" y="519.7" font-size="12.7" fill="#fff" text-anchor="middle" textLength="25" lengthAdjust="spacingAndGlyphs">ONT</text>
<path d="M845.2 463.1 H869.4" stroke="#8a98c4" stroke-width="1.1"/>
<path d="M845.2 466.7 H869.4" stroke="#8cc496" stroke-width="1.1"/>
<path d="M845.2 470.3 H869.4" stroke="#e8bf96" stroke-width="1.1"/>
<path d="M845.2 474.0 H869.4" stroke="#e89a9a" stroke-width="1.1"/>
<polygon points="873.4,463.1 867.4,460.5 867.4,465.7" fill="#3b5bb2"/>
<polygon points="873.4,466.7 867.4,464.1 867.4,469.3" fill="#36a846"/>
<polygon points="873.4,470.3 867.4,467.7 867.4,472.9" fill="#f29131"/>
<polygon points="873.4,474.0 867.4,471.4 867.4,476.6" fill="#e8212a"/>
<path d="M849.2 493.4 H873.4" stroke="#8a98c4" stroke-width="1.1"/>
<path d="M849.2 497.2 H873.4" stroke="#8cc496" stroke-width="1.1"/>
<path d="M849.2 501.0 H873.4" stroke="#e8bf96" stroke-width="1.1"/>
<path d="M849.2 504.7 H873.4" stroke="#e89a9a" stroke-width="1.1"/>
<polygon points="845.2,493.4 851.2,490.8 851.2,496.0" fill="#3b5bb2"/>
<polygon points="845.2,497.2 851.2,494.6 851.2,499.8" fill="#36a846"/>
<polygon points="845.2,501.0 851.2,498.4 851.2,503.6" fill="#f29131"/>
<polygon points="845.2,504.7 851.2,502.1 851.2,507.3" fill="#e8212a"/>
<text x="903.8" y="460.6" font-size="9.45" fill="#333" stroke="#333" stroke-width=".25" text-anchor="end">4x 10 Gb/s descendant</text>
<text x="903.8" y="516.3" font-size="9.55" fill="#333" stroke="#333" stroke-width=".25" text-anchor="end">4x 10 Gb/s montant</text>
<text x="967.3" y="535.6" font-size="10.5" fill="#6a6a6a" text-anchor="end">λ-agile, 4 λs</text>
</svg>
<div class="t" style="left:799.4px;top:549.2px;font-size:11.35px;color:#545454">LaFibre.info <span style="color:#000">Mise à jour 2020</span></div>
<svg class="abs" style="left:956px;top:546px" width="43" height="14" viewBox="0 0 43 14"><rect x=".5" y=".5" width="46" height="13" rx="2" fill="#a3a9a3" stroke="#2a2a2a" stroke-width="1"/><rect x="13" y="11" width="33" height="2.6" fill="#1a1a1a"/><circle cx="6.8" cy="6" r="5.2" fill="#e8ebe8" stroke="#222" stroke-width="1.3"/><text x="6.8" y="8" font-size="5.6" font-weight="bold" text-anchor="middle" font-family="Liberation Sans, sans-serif" fill="#222">cc</text><circle cx="21.7" cy="5" r="3.6" fill="#e8ebe8" stroke="#222" stroke-width=".9"/><circle cx="21.7" cy="3.6" r=".8" fill="#222"/><rect x="20.8" y="4.6" width="1.8" height="3" fill="#222"/><circle cx="31.3" cy="5" r="3.6" fill="#e8ebe8" stroke="#222" stroke-width=".9"/><circle cx="31.3" cy="5" r="1.6" fill="none" stroke="#222" stroke-width=".8"/></svg>
<!--BOTTOM-END-->
</body>
</html>
